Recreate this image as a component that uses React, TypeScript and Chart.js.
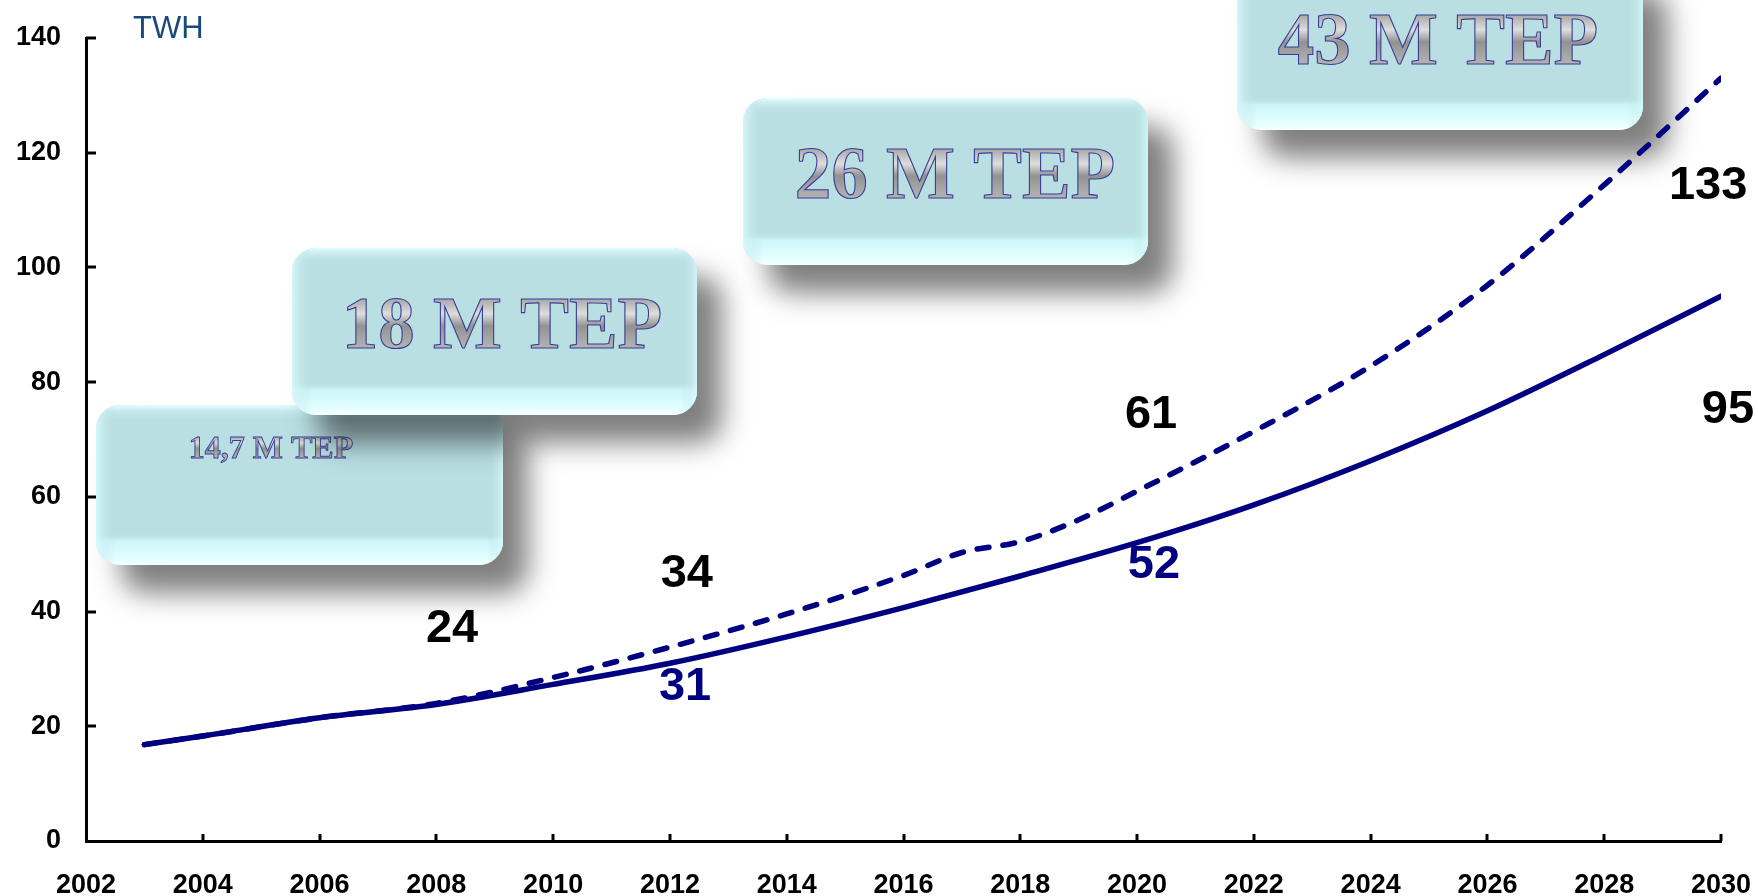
import React, { useEffect, useRef } from "react";
import { Chart, registerables } from "chart.js";

Chart.register(...registerables);

// ---- data ----
const solidYears = [2003, 2004, 2006, 2008, 2010, 2012, 2014, 2016, 2018, 2020, 2022, 2024, 2026, 2028, 2030];
const solidValues = [16.8, 18.3, 21.5, 23.8, 27.3, 31, 35.6, 40.7, 46.2, 52, 58.6, 66.3, 75, 84.8, 95];

const dashedYears = [2003, 2004, 2006, 2008, 2010, 2012, 2014, 2016, 2017, 2018, 2019, 2020, 2022, 2024, 2026, 2028, 2030];
const dashedValues = [16.8, 18.3, 21.5, 24, 28.5, 33.8, 39.6, 46.3, 50.3, 52.2, 56, 61, 71.4, 82.8, 96.9, 114.4, 133];

const xMin = 2002;
const xMax = 2030;
const yMin = 0;
const yMax = 140;
const yUnit = "TWH";

// value labels (text, anchor year, anchor value, series)
const labelTexts = ["24", "34", "31", "61", "52", "133", "95"];
const labelYears = [2008.27, 2012.29, 2012.26, 2020.24, 2020.29, 2029.78, 2030.12];
const labelValues = [37.7, 47.2, 27.5, 75.0, 48.8, 114.9, 75.8];
const labelSeries = ["dashed", "dashed", "solid", "dashed", "solid", "dashed", "dashed"];

// energy boxes
const boxTexts = ["14,7 M TEP", "18 M TEP", "26 M TEP", "43 M TEP"];

const NAVY = "#000080";

const boxesPlugin = {
  id: "boxes",
  beforeDatasetsDraw(chart: any) {
    const ctx: CanvasRenderingContext2D = chart.ctx;
    const geo = [
      { x: 96, y: 405, w: 407, h: 160, tx: 271, ty: 458, fs: 32 },
      { x: 292, y: 248, w: 405, h: 167, tx: 502, ty: 348, fs: 73 },
      { x: 743, y: 98, w: 405, h: 167, tx: 955, ty: 198, fs: 73 },
      { x: 1237, y: -37, w: 406, h: 167, tx: 1438, ty: 64, fs: 73 },
    ];
    geo.forEach((g, i) => {
      const r = 24;
      // shadow + base
      ctx.save();
      ctx.shadowColor = "rgba(0,0,0,0.5)";
      ctx.shadowBlur = 28;
      ctx.shadowOffsetX = 25;
      ctx.shadowOffsetY = 28;
      ctx.beginPath();
      ctx.roundRect(g.x, g.y, g.w, g.h, r);
      ctx.fillStyle = "#B9DFE2";
      ctx.fill();
      ctx.restore();
      // vertical highlight
      ctx.save();
      ctx.beginPath();
      ctx.roundRect(g.x, g.y, g.w, g.h, r);
      ctx.clip();
      const vg = ctx.createLinearGradient(0, g.y, 0, g.y + g.h);
      vg.addColorStop(0, "rgba(225,255,255,1)");
      vg.addColorStop(0.1, "rgba(185,223,226,0)");
      vg.addColorStop(0.8, "rgba(185,223,226,0)");
      vg.addColorStop(0.85, "rgba(205,246,248,1)");
      vg.addColorStop(0.95, "rgba(225,255,255,1)");
      vg.addColorStop(1, "rgba(245,255,255,1)");
      ctx.fillStyle = vg;
      ctx.fillRect(g.x, g.y, g.w, g.h);
      const hg = ctx.createLinearGradient(g.x, 0, g.x + g.w, 0);
      hg.addColorStop(0, "rgba(215,250,252,0.9)");
      hg.addColorStop(0.05, "rgba(185,223,226,0)");
      hg.addColorStop(0.96, "rgba(185,223,226,0)");
      hg.addColorStop(1, "rgba(215,250,252,0.8)");
      ctx.fillStyle = hg;
      ctx.fillRect(g.x, g.y, g.w, g.h);
      ctx.restore();
      // text
      ctx.save();
      ctx.font = `bold ${g.fs}px "Liberation Serif", "Times New Roman", serif`;
      ctx.textAlign = "center";
      ctx.textBaseline = "alphabetic";
      const capH = g.fs * 0.67;
      const tg = ctx.createLinearGradient(0, g.ty - capH, 0, g.ty);
      tg.addColorStop(0, "#a8a8a8");
      tg.addColorStop(0.3, "#dedede");
      tg.addColorStop(0.55, "#929292");
      tg.addColorStop(1, "#b4b4b4");
      ctx.fillStyle = tg;
      ctx.fillText(boxTexts[i], g.tx, g.ty);
      ctx.lineWidth = g.fs > 40 ? 1.1 : 0.9;
      ctx.strokeStyle = "#3A3D96";
      ctx.strokeText(boxTexts[i], g.tx, g.ty);
      ctx.restore();
    });
  },
};

const decorPlugin = {
  id: "decor",
  afterDraw(chart: any) {
    const ctx: CanvasRenderingContext2D = chart.ctx;
    const xs = chart.scales.x;
    const ys = chart.scales.y;
    const area = chart.chartArea;
    ctx.save();
    // inward tick marks
    ctx.strokeStyle = "#000";
    ctx.lineWidth = 3;
    for (let v = yMin + 20; v <= yMax; v += 20) {
      const py = Math.round(ys.getPixelForValue(v));
      ctx.beginPath();
      ctx.moveTo(area.left, py);
      ctx.lineTo(area.left + 10, py);
      ctx.stroke();
    }
    for (let yr = xMin + 2; yr <= xMax; yr += 2) {
      const px = Math.round(xs.getPixelForValue(yr));
      ctx.beginPath();
      ctx.moveTo(px, area.bottom);
      ctx.lineTo(px, area.bottom - 7);
      ctx.stroke();
    }
    // unit label
    ctx.font = '31px "Liberation Sans", Arial, sans-serif';
    ctx.fillStyle = "#1B4A7A";
    ctx.textAlign = "left";
    ctx.textBaseline = "alphabetic";
    ctx.fillText(yUnit, 133, 38);
    // value labels
    const fs = 47;
    ctx.font = `bold ${fs}px "Liberation Sans", Arial, sans-serif`;
    ctx.textAlign = "center";
    labelTexts.forEach((t, i) => {
      const px = xs.getPixelForValue(labelYears[i]);
      const py = ys.getPixelForValue(labelValues[i]);
      ctx.fillStyle = labelSeries[i] === "solid" ? NAVY : "#000";
      ctx.fillText(t, px, py + fs * 0.358);
    });
    ctx.restore();
  },
};

export default function App() {
  const ref = useRef<HTMLCanvasElement>(null);
  useEffect(() => {
    if (!ref.current) return;
    const tickFont = { family: '"Liberation Sans", Arial, sans-serif', size: 27, weight: "bold" as const };
    const chart = new Chart(ref.current, {
      type: "line",
      data: {
        datasets: [
          {
            label: "solid",
            data: solidYears.map((x, i) => ({ x, y: solidValues[i] })),
            borderColor: NAVY,
            borderWidth: 5.5,
            pointRadius: 0,
            cubicInterpolationMode: "monotone",
            borderCapStyle: "round",
            fill: false,
          },
          {
            label: "dashed",
            data: dashedYears.map((x, i) => ({ x, y: dashedValues[i] })),
            borderColor: NAVY,
            borderWidth: 5.5,
            borderDash: [12, 14],
            borderCapStyle: "round",
            pointRadius: 0,
            cubicInterpolationMode: "monotone",
            fill: false,
          },
        ],
      },
      options: {
        animation: false,
        responsive: true,
        maintainAspectRatio: false,
        layout: { padding: { top: 38, right: 37, left: 0, bottom: 0 } },
        plugins: { legend: { display: false }, tooltip: { enabled: false } },
        scales: {
          x: {
            type: "linear",
            min: xMin,
            max: xMax,
            grid: { display: false, drawTicks: false },
            border: { display: true, color: "#000", width: 3 },
            ticks: {
              stepSize: 2,
              color: "#000",
              font: tickFont,
              padding: 28,
              maxRotation: 0,
              callback: (v: any) => String(v),
            },
            afterFit: (s: any) => {
              s.height = 55;
              s.paddingLeft = 0;
              s.paddingRight = 0;
            },
          },
          y: {
            min: yMin,
            max: yMax,
            grid: { display: false, drawTicks: false },
            border: { display: true, color: "#000", width: 3 },
            ticks: {
              stepSize: 20,
              color: "#000",
              font: tickFont,
              padding: 25,
              callback: (v: any) => String(v),
            },
            afterFit: (s: any) => {
              s.width = 86;
              s.paddingTop = 0;
              s.paddingBottom = 0;
            },
          },
        },
      },
      plugins: [boxesPlugin, decorPlugin],
    } as any);
    return () => chart.destroy();
  }, []);
  return (
    <div style={{ position: "fixed", left: 0, top: 0, width: 1758, height: 896, background: "#fff" }}>
      <canvas ref={ref} />
    </div>
  );
}
